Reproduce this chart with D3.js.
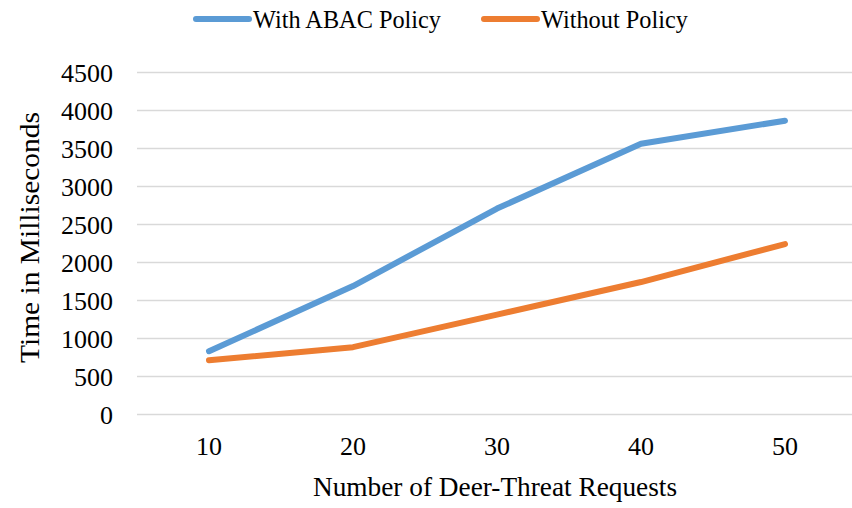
<!DOCTYPE html>
<html><head><meta charset="utf-8">
<script src="https://cdn.jsdelivr.net/npm/d3@7"></script>
<style>body{margin:0;background:#fff;}</style>
</head><body>
<svg id="chart" width="852" height="508"></svg>
<script>
const categories = ["10","20","30","40","50"];
const withAbac = [833, 1690, 2710, 3562, 3866];
const withoutPolicy = [714, 886, 1315, 1743, 2243];
const yTicks = [0,500,1000,1500,2000,2500,3000,3500,4000,4500];
const seriesNames = ["With ABAC Policy","Without Policy"];
const colors = ["#5B9BD5","#ED7D31"];

(function(){
const FONT = "'Liberation Serif', 'Times New Roman', serif";
const svg = d3.select("#chart").attr("font-family", FONT);
const pLeft = 137, pRight = 857, pTop = 72.5, pBottom = 414.5;
const x = d3.scaleBand().domain(categories).range([pLeft, pRight]);
const y = d3.scaleLinear().domain([0,4500]).range([pBottom, pTop]);

svg.append("g").selectAll("line").data(yTicks).join("line")
  .attr("x1", pLeft).attr("x2", 852)
  .attr("y1", d=>y(d)).attr("y2", d=>y(d))
  .attr("stroke","#D9D9D9").attr("stroke-width",1.5);

svg.append("g").selectAll("text").data(yTicks).join("text")
  .attr("x", 113).attr("y", d=>y(d)).attr("dy","0.35em")
  .attr("text-anchor","end").attr("font-size",26).text(d=>d);

svg.append("g").selectAll("text").data(categories).join("text")
  .attr("x", d=>x(d)+x.bandwidth()/2).attr("y", 455)
  .attr("text-anchor","middle").attr("font-size",26).text(d=>d);

svg.append("text").attr("x", 495).attr("y", 496).attr("text-anchor","middle")
  .attr("font-size",27.3).text("Number of Deer-Threat Requests");
svg.append("text").attr("transform","translate(39,237.5) rotate(-90)")
  .attr("text-anchor","middle").attr("font-size",27.5)
  .attr("textLength",251).attr("lengthAdjust","spacingAndGlyphs")
  .text("Time in Milliseconds");

const line = d3.line().x((d,i)=>x(categories[i])+x.bandwidth()/2).y(d=>y(d));
[withAbac, withoutPolicy].forEach((s,k)=>{
  svg.append("path").datum(s).attr("d", line).attr("fill","none")
    .attr("stroke", colors[k]).attr("stroke-width",6)
    .attr("stroke-linecap","round").attr("stroke-linejoin","round");
});

const legX = [196, 484];
seriesNames.forEach((n,k)=>{
  svg.append("line").attr("x1", legX[k]).attr("x2", legX[k]+53)
    .attr("y1", 19).attr("y2", 19).attr("stroke", colors[k])
    .attr("stroke-width",6).attr("stroke-linecap","round");
  svg.append("text").attr("x", legX[k]+57).attr("y", 19).attr("dy","0.35em")
    .attr("font-size",24.3).text(n);
});
})();
</script>
</body></html>
